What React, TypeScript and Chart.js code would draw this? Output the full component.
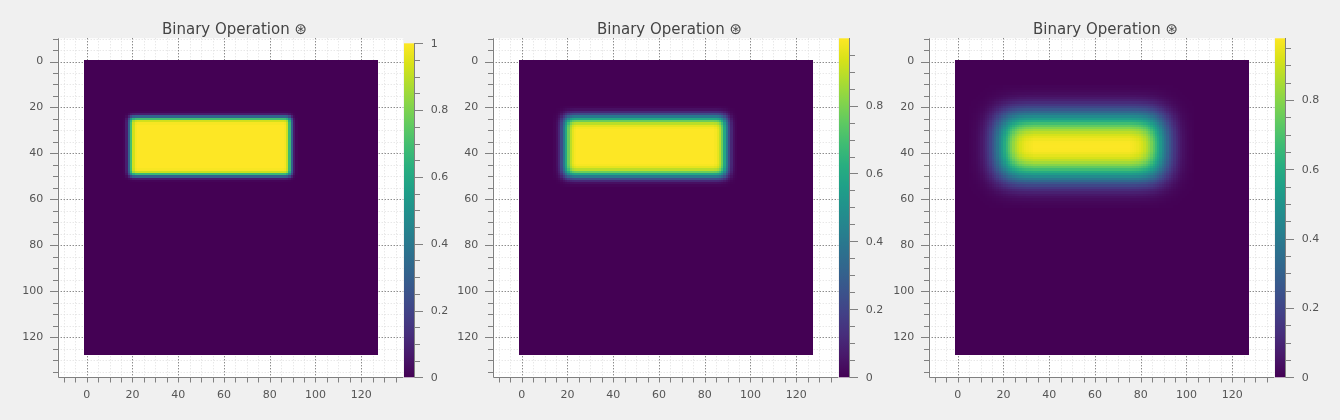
import React, { useEffect, useRef } from 'react';
import { Chart, registerables } from 'chart.js';
Chart.register(...registerables);

// ---------- data ----------
const TITLE = 'Binary Operation ⊛';
const IMAGE_SIZE = 128;
const RECT_X = [20, 90]; // rectangle column edges
const RECT_Y = [25, 50]; // rectangle row edges
// cumulative edge profiles (value across one edge, outside -> inside), per panel
const PROFILE_1 = [0.01, 0.08, 0.32, 0.7, 0.93, 0.99];
const PROFILE_2 = [0.012, 0.04, 0.106, 0.227, 0.401, 0.599, 0.773, 0.894, 0.96, 0.988];
const PROFILE_3 = [
  0.007, 0.012, 0.018, 0.028, 0.042, 0.061, 0.086, 0.119, 0.159, 0.207, 0.262, 0.325, 0.393, 0.464,
  0.536, 0.607, 0.675, 0.738, 0.793, 0.841, 0.881, 0.914, 0.939, 0.958, 0.972, 0.982, 0.988, 0.993,
];
const PROFILES = [PROFILE_1, PROFILE_2, PROFILE_3];
const COLOR_MAX = [1, 0.998, 0.978];
const X_MAJOR = [0, 20, 40, 60, 80, 100, 120];
const Y_MAJOR = [0, 20, 40, 60, 80, 100, 120];
const CB_MAJOR = [0, 0.2, 0.4, 0.6, 0.8, 1];
const CB_LABELS = ['0', '0.2', '0.4', '0.6', '0.8', '1'];

// ---------- layout / style ----------
const PANEL_LEFT = [0, 435, 871];
const CANVAS_W = 470;
const CANVAS_H = 420;
const X_RANGE = [-12.7, 138.4];
const Y_RANGE = [-10.1, 137.4];
const X_EXTENT = [-1, 127.3];
const Y_EXTENT = [-0.6, 127.7];
const CB_AXIS_MAX = [1.015, 0.998, 0.978];
const FONT = '"DejaVu Sans", "Liberation Sans", sans-serif';
const AXIS_COLOR = '#808080';
const TEXT_COLOR = '#555555';

const VIRIDIS = [
  '#440154', '#48186a', '#472d7b', '#424086', '#3b528b', '#33638d', '#2c728e', '#26828e',
  '#21918c', '#1fa088', '#28ae80', '#3fbc73', '#5ec962', '#84d44b', '#addc30', '#d8e219', '#fde725',
];
const hexRgb = (h: string) => [parseInt(h.slice(1, 3), 16), parseInt(h.slice(3, 5), 16), parseInt(h.slice(5, 7), 16)];
const VIR_RGB = VIRIDIS.map(hexRgb);
function viridis(t: number): number[] {
  const c = Math.max(0, Math.min(1, t)) * (VIR_RGB.length - 1);
  const i = Math.min(VIR_RGB.length - 2, Math.floor(c));
  const f = c - i;
  const a = VIR_RGB[i], b = VIR_RGB[i + 1];
  return [a[0] + (b[0] - a[0]) * f, a[1] + (b[1] - a[1]) * f, a[2] + (b[2] - a[2]) * f];
}

function cum(profile: number[], k: number) {
  const half = profile.length / 2;
  const idx = k + half;
  if (idx < 0) return 0;
  if (idx >= profile.length) return 1;
  return profile[idx];
}

function buildImage(panel: number): HTMLCanvasElement {
  const prof = PROFILES[panel];
  const off = document.createElement('canvas');
  off.width = IMAGE_SIZE;
  off.height = IMAGE_SIZE;
  const octx = off.getContext('2d')!;
  const img = octx.createImageData(IMAGE_SIZE, IMAGE_SIZE);
  for (let r = 0; r < IMAGE_SIZE; r++) {
    const vy = cum(prof, r - RECT_Y[0]) - cum(prof, r - RECT_Y[1]);
    for (let c = 0; c < IMAGE_SIZE; c++) {
      const vx = cum(prof, c - RECT_X[0]) - cum(prof, c - RECT_X[1]);
      const v = vx * vy;
      const col = viridis(v / COLOR_MAX[panel]);
      const p = (r * IMAGE_SIZE + c) * 4;
      img.data[p] = Math.round(col[0]);
      img.data[p + 1] = Math.round(col[1]);
      img.data[p + 2] = Math.round(col[2]);
      img.data[p + 3] = 255;
    }
  }
  octx.putImageData(img, 0, 0);
  return off;
}

function stepTicks(min: number, max: number, step: number) {
  const out: number[] = [];
  const start = Math.ceil(min / step - 1e-9) * step;
  for (let v = start; v <= max + 1e-9; v += step) out.push(Math.round(v * 1000) / 1000);
  return out;
}
const isMajor = (v: number, majors: number[]) => majors.some((m) => Math.abs(m - v) < 1e-6);

function makeConfig(panel: number, image: HTMLCanvasElement): any {
  const cbMax = COLOR_MAX[panel];
  const plugin = {
    id: 'heatmapPanel',
    beforeDatasetsDraw(chart: any) {
      const { ctx, chartArea: a, scales } = chart;
      const xs = scales.x, ys = scales.y;
      ctx.save();
      ctx.fillStyle = '#ffffff';
      ctx.fillRect(a.left, a.top, a.right - a.left, a.bottom - a.top);
      ctx.lineWidth = 1;
      const drawGrid = (major: boolean) => {
        ctx.strokeStyle = major ? '#5a5a5a' : '#dedede';
        ctx.setLineDash(major ? [1, 2] : [1, 2]);
        ctx.beginPath();
        for (const v of stepTicks(X_RANGE[0], X_RANGE[1], 5)) {
          if (isMajor(v, X_MAJOR) !== major) continue;
          const px = Math.round(xs.getPixelForValue(v)) + 0.5;
          ctx.moveTo(px, a.top);
          ctx.lineTo(px, a.bottom);
        }
        for (const v of stepTicks(Y_RANGE[0], Y_RANGE[1], 5)) {
          if (isMajor(v, Y_MAJOR) !== major) continue;
          const py = Math.round(ys.getPixelForValue(v)) + 0.5;
          ctx.moveTo(a.left, py);
          ctx.lineTo(a.right, py);
        }
        ctx.stroke();
      };
      drawGrid(false);
      drawGrid(true);
      ctx.setLineDash([]);
      // heatmap image
      const x0 = xs.getPixelForValue(X_EXTENT[0]);
      const x1 = xs.getPixelForValue(X_EXTENT[1]);
      const y0 = ys.getPixelForValue(Y_EXTENT[0]);
      const y1 = ys.getPixelForValue(Y_EXTENT[1]);
      ctx.beginPath();
      ctx.rect(a.left, a.top, a.right - a.left, a.bottom - a.top);
      ctx.clip();
      ctx.imageSmoothingEnabled = false;
      ctx.drawImage(image, Math.round(x0), Math.round(y0), Math.round(x1) - Math.round(x0), Math.round(y1) - Math.round(y0));
      ctx.restore();
    },
    afterDraw(chart: any) {
      const { ctx, chartArea: a, scales } = chart;
      const xs = scales.x, ys = scales.y, cb = scales.cb;
      ctx.save();
      ctx.strokeStyle = AXIS_COLOR;
      ctx.lineWidth = 1;
      ctx.setLineDash([]);
      // axis lines
      const L = Math.round(a.left) + 0.5;
      const B = Math.round(a.bottom) + 0.5;
      ctx.beginPath();
      ctx.moveTo(L, a.top);
      ctx.lineTo(L, B);
      ctx.lineTo(a.right, B);
      // x ticks
      for (const v of stepTicks(X_RANGE[0], X_RANGE[1], 5)) {
        const px = Math.round(xs.getPixelForValue(v)) + 0.5;
        ctx.moveTo(px, B);
        ctx.lineTo(px, B + 5);
      }
      // y ticks
      for (const v of stepTicks(Y_RANGE[0], Y_RANGE[1], 5)) {
        const py = Math.round(ys.getPixelForValue(v)) + 0.5;
        const len = isMajor(v, Y_MAJOR) ? 8.5 : 5.5;
        ctx.moveTo(L, py);
        ctx.lineTo(L - len, py);
      }
      ctx.stroke();

      // colorbar
      const cbL = a.right + 0.7;
      const cbR = a.right + 11;
      const yb = cb.getPixelForValue(0);
      const yt = cb.getPixelForValue(cbMax);
      const grad = ctx.createLinearGradient(0, yb, 0, yt);
      VIRIDIS.forEach((c, i) => grad.addColorStop(i / (VIRIDIS.length - 1), c));
      ctx.fillStyle = grad;
      ctx.fillRect(cbL, yt, cbR - cbL, yb - yt);
      const R = Math.round(cbR) + 0.5;
      ctx.beginPath();
      ctx.moveTo(R, Math.round(yt));
      ctx.lineTo(R, Math.round(yb) + 0.5);
      for (const v of stepTicks(0, cbMax, 0.05)) {
        const py = Math.round(cb.getPixelForValue(v)) + 0.5;
        const len = isMajor(v, CB_MAJOR) ? 8.5 : 5.5;
        ctx.moveTo(R, py);
        ctx.lineTo(R + len, py);
      }
      ctx.stroke();
      ctx.fillStyle = TEXT_COLOR;
      ctx.font = `11px ${FONT}`;
      ctx.textAlign = 'left';
      ctx.textBaseline = 'middle';
      CB_MAJOR.forEach((v, i) => {
        if (v > cbMax + 1e-9) return;
        ctx.fillText(CB_LABELS[i], cbR + 16.5, cb.getPixelForValue(v) + 0.5);
      });

      // title
      ctx.fillStyle = '#444444';
      ctx.font = `15px ${FONT}`;
      ctx.textAlign = 'center';
      ctx.textBaseline = 'alphabetic';
      ctx.fillText(TITLE, 234.5, 34.3);
      ctx.restore();
    },
  };

  const tickFont = { family: FONT, size: 11 };
  return {
    type: 'scatter',
    data: { datasets: [] },
    options: {
      animation: false,
      responsive: false,
      maintainAspectRatio: false,
      devicePixelRatio: 1,
      events: [],
      layout: { padding: { top: 38.3, bottom: 0, left: 0, right: 15.7 } },
      plugins: { legend: { display: false }, title: { display: false }, tooltip: { enabled: false } },
      scales: {
        x: {
          type: 'linear',
          position: 'bottom',
          min: X_RANGE[0],
          max: X_RANGE[1],
          grid: { display: false, drawTicks: false },
          border: { display: false },
          ticks: {
            autoSkip: false,
            maxRotation: 0,
            padding: 11.5,
            color: TEXT_COLOR,
            font: tickFont,
            callback: (v: number) => (isMajor(v, X_MAJOR) ? String(v) : ''),
          },
          afterBuildTicks: (s: any) => {
            s.ticks = stepTicks(X_RANGE[0], X_RANGE[1], 5).map((value) => ({ value }));
          },
          afterFit: (s: any) => {
            s.height = CANVAS_H - 377.3;
          },
        },
        y: {
          type: 'linear',
          position: 'left',
          reverse: true,
          min: Y_RANGE[0],
          max: Y_RANGE[1],
          grid: { display: false, drawTicks: false },
          border: { display: false },
          ticks: {
            autoSkip: false,
            padding: 14.4,
            color: TEXT_COLOR,
            font: tickFont,
            callback: (v: number) => (isMajor(v, Y_MAJOR) ? String(v) : ''),
          },
          afterBuildTicks: (s: any) => {
            s.ticks = stepTicks(Y_RANGE[0], Y_RANGE[1], 5).map((value) => ({ value }));
          },
          afterFit: (s: any) => {
            s.width = 57.7;
          },
        },
        cb: {
          type: 'linear',
          position: 'right',
          min: 0,
          max: CB_AXIS_MAX[panel],
          grid: { display: false, drawTicks: false },
          border: { display: false },
          ticks: { display: false },
          afterFit: (s: any) => {
            s.width = 51;
          },
        },
      },
    },
    plugins: [plugin],
  };
}

function Panel({ index }: { index: number }) {
  const ref = useRef<HTMLCanvasElement | null>(null);
  useEffect(() => {
    if (!ref.current) return;
    const image = buildImage(index);
    const chart = new Chart(ref.current, makeConfig(index, image));
    return () => chart.destroy();
  }, [index]);
  return (
    <canvas
      ref={ref}
      width={CANVAS_W}
      height={CANVAS_H}
      style={{ position: 'absolute', left: PANEL_LEFT[index], top: 0, width: CANVAS_W, height: CANVAS_H }}
    />
  );
}

export default function App() {
  return (
    <div
      style={{
        position: 'fixed',
        left: 0,
        top: 0,
        width: 1340,
        height: 420,
        background: '#f0f0f0',
        overflow: 'hidden',
      }}
    >
      <Panel index={0} />
      <Panel index={1} />
      <Panel index={2} />
    </div>
  );
}
